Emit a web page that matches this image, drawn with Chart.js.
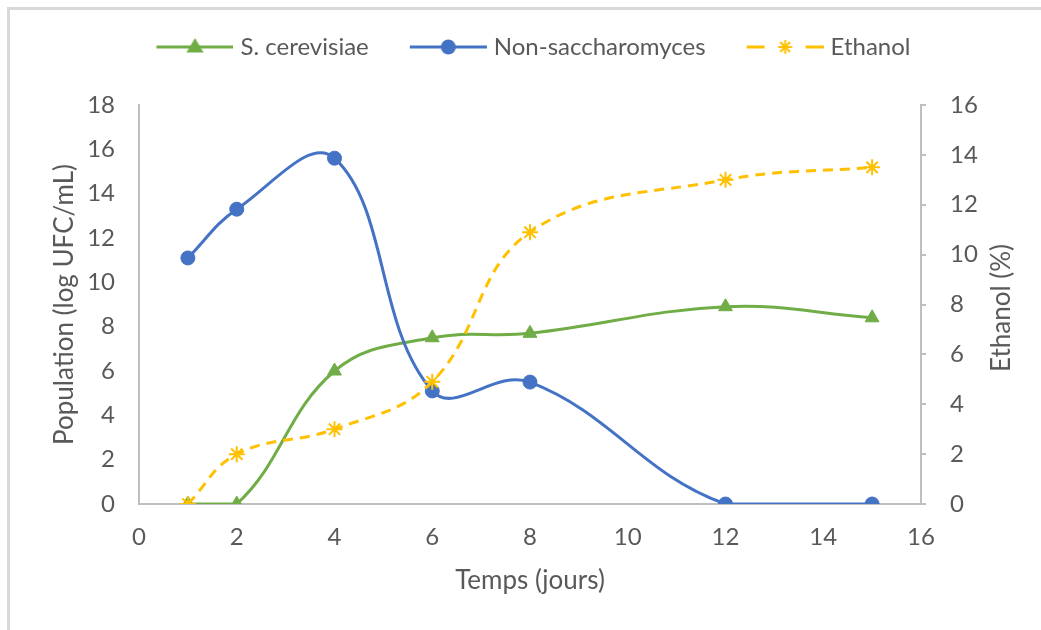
<!DOCTYPE html>
<html>
<head>
<meta charset="utf-8">
<script src="https://cdn.jsdelivr.net/npm/chart.js@4/dist/chart.umd.min.js"></script>
<style>
  html, body { margin: 0; padding: 0; background: #fff; overflow: hidden; }
  #wrap { position: relative; width: 1041px; height: 630px; overflow: hidden; }
  #frame { position: absolute; left: 7px; top: 7px; width: 1100px; height: 700px;
           border-top: 3px solid #d9d9d9; border-left: 3px solid #d9d9d9; border-right: none; border-bottom: none;
           box-sizing: border-box; }
  canvas { position: absolute; left: 0; top: 0; }
  #rtitle { position: absolute; left: 1000px; top: 308px; transform: translate(-50%, -50%) rotate(-90deg);
            font-family: Lato, sans-serif; font-size: 26px; color: #595959; white-space: nowrap; }
</style>
</head>
<body>
<div id="wrap">
  <div id="frame"></div>
  <canvas id="c" width="1041" height="630"></canvas>
  <div id="rtitle">Ethanol (%)</div>
</div>
<script>
// ---- data ----
const days = [1, 2, 4, 6, 8, 12, 15];
const cerevisiae = [0, 0, 6.0, 7.5, 7.7, 8.9, 8.4];
const nonSaccharomyces = [11.1, 13.3, 15.6, 5.1, 5.5, 0, 0];
const ethanol = [0, 2.0, 3.0, 4.9, 10.9, 13.0, 13.5];
const seriesNames = ['S. cerevisiae', 'Non-saccharomyces', 'Ethanol'];
const xTitle = 'Temps (jours)';
const yLeftTitle = 'Population (log UFC/mL)';

const GREEN = '#70AD47', BLUE = '#4472C4', YELLOW = '#FFC000';
const TXT = '#595959', AX = '#BFBFBF';
const FONT = 'Lato';

function pts(ys) { return days.map((d, i) => ({x: d, y: ys[i]})); }

// legend icons (line + marker)
function legendIcon(kind, color) {
  const c = document.createElement('canvas');
  c.width = 88; c.height = 24;
  const g = c.getContext('2d');
  const x0 = 11, x1 = 88, cy = 12, cx = (x0 + x1) / 2;
  g.strokeStyle = color; g.fillStyle = color; g.lineWidth = 3;
  if (kind === 'star') {
    g.beginPath(); g.moveTo(x0, cy); g.lineTo(x0 + 18, cy); g.stroke();
    g.beginPath(); g.moveTo(x1 - 18, cy); g.lineTo(x1, cy); g.stroke();
    g.lineWidth = 2;
    const r = 7;
    for (let k = 0; k < 4; k++) {
      const a = k * Math.PI / 4;
      g.beginPath(); g.moveTo(cx - r * Math.cos(a), cy - r * Math.sin(a));
      g.lineTo(cx + r * Math.cos(a), cy + r * Math.sin(a)); g.stroke();
    }
  } else {
    g.beginPath(); g.moveTo(x0, cy); g.lineTo(x1, cy); g.stroke();
    g.beginPath();
    if (kind === 'triangle') {
      const r = 9;
      g.moveTo(cx, cy - r); g.lineTo(cx + r * 0.95, cy + r * 0.6); g.lineTo(cx - r * 0.95, cy + r * 0.6);
      g.closePath();
    } else {
      g.arc(cx, cy, 7.5, 0, Math.PI * 2);
    }
    g.fill();
  }
  return c;
}
const icons = [legendIcon('triangle', GREEN), legendIcon('circle', BLUE), legendIcon('star', YELLOW)];

const LPAD = 20;

new Chart(document.getElementById('c'), {
  type: 'line',
  data: {
    datasets: [
      { label: seriesNames[0], data: pts(cerevisiae), yAxisID: 'y', order: 2,
        borderColor: GREEN, backgroundColor: GREEN, borderWidth: 3, tension: 0.4,
        pointStyle: 'triangle', pointRadius: 8, pointBackgroundColor: GREEN, pointBorderColor: GREEN, pointBorderWidth: 1 },
      { label: seriesNames[1], data: pts(nonSaccharomyces), yAxisID: 'y', order: 1,
        borderColor: BLUE, backgroundColor: BLUE, borderWidth: 3, tension: 0.4,
        pointStyle: 'circle', pointRadius: 7, pointBackgroundColor: BLUE, pointBorderColor: BLUE, pointBorderWidth: 1 },
      { label: seriesNames[2], data: pts(ethanol), yAxisID: 'y2', order: 0,
        borderColor: YELLOW, backgroundColor: YELLOW, borderWidth: 3, tension: 0.4, borderDash: [10, 7],
        pointStyle: 'star', pointRadius: 8, pointBackgroundColor: YELLOW, pointBorderColor: YELLOW, pointBorderWidth: 2 }
    ]
  },
  options: {
    responsive: false,
    animation: false,
    events: [],
    layout: { padding: { left: LPAD, top: 0, right: 0, bottom: 0 } },
    plugins: {
      tooltip: { enabled: false },
      title: { display: true, text: '', position: 'top', weight: 500,
               font: { size: 1, lineHeight: 1 }, padding: { top: 35, bottom: 0 } },
      legend: {
        position: 'top',
        labels: {
          usePointStyle: true,
          pointStyleWidth: 78,
          padding: 35,
          color: TXT,
          font: { family: FONT, size: 24 },
          generateLabels: () => seriesNames.map((n, i) => ({
            text: n, pointStyle: icons[i], fillStyle: 'rgba(0,0,0,0)', strokeStyle: 'rgba(0,0,0,0)',
            lineWidth: 0, hidden: false, datasetIndex: i, fontColor: TXT
          }))
        }
      }
    },
    scales: {
      x: {
        type: 'linear', min: 0, max: 16,
        ticks: { stepSize: 2, color: TXT, font: { family: FONT, size: 24 }, padding: 19 },
        grid: { display: false, drawTicks: false },
        border: { display: true, color: AX, width: 2 },
        title: { display: true, text: xTitle, color: TXT, font: { family: FONT, size: 26 }, padding: { top: 0, bottom: 34 } },
        afterFit: s => { s.height = 126; }
      },
      y: {
        type: 'linear', position: 'left', min: 0, max: 18,
        ticks: { stepSize: 2, color: TXT, font: { family: FONT, size: 24 }, padding: 24 },
        grid: { drawOnChartArea: false, drawTicks: false },
        border: { display: true, color: AX, width: 2 },
        title: { display: true, text: yLeftTitle, color: TXT, font: { family: FONT, size: 26 }, padding: { top: 29, bottom: 0 } },
        afterFit: s => { s.width = 139 - LPAD; }
      },
      y2: {
        type: 'linear', position: 'right', min: 0, max: 16,
        ticks: { stepSize: 2, color: TXT, font: { family: FONT, size: 24 }, padding: 24 },
        grid: { drawOnChartArea: false, drawTicks: true, tickLength: 5, color: AX, lineWidth: 2 },
        border: { display: true, color: AX, width: 2 },
        afterFit: s => { s.width = 120; }
      }
    }
  }
});
</script>
</body>
</html>
